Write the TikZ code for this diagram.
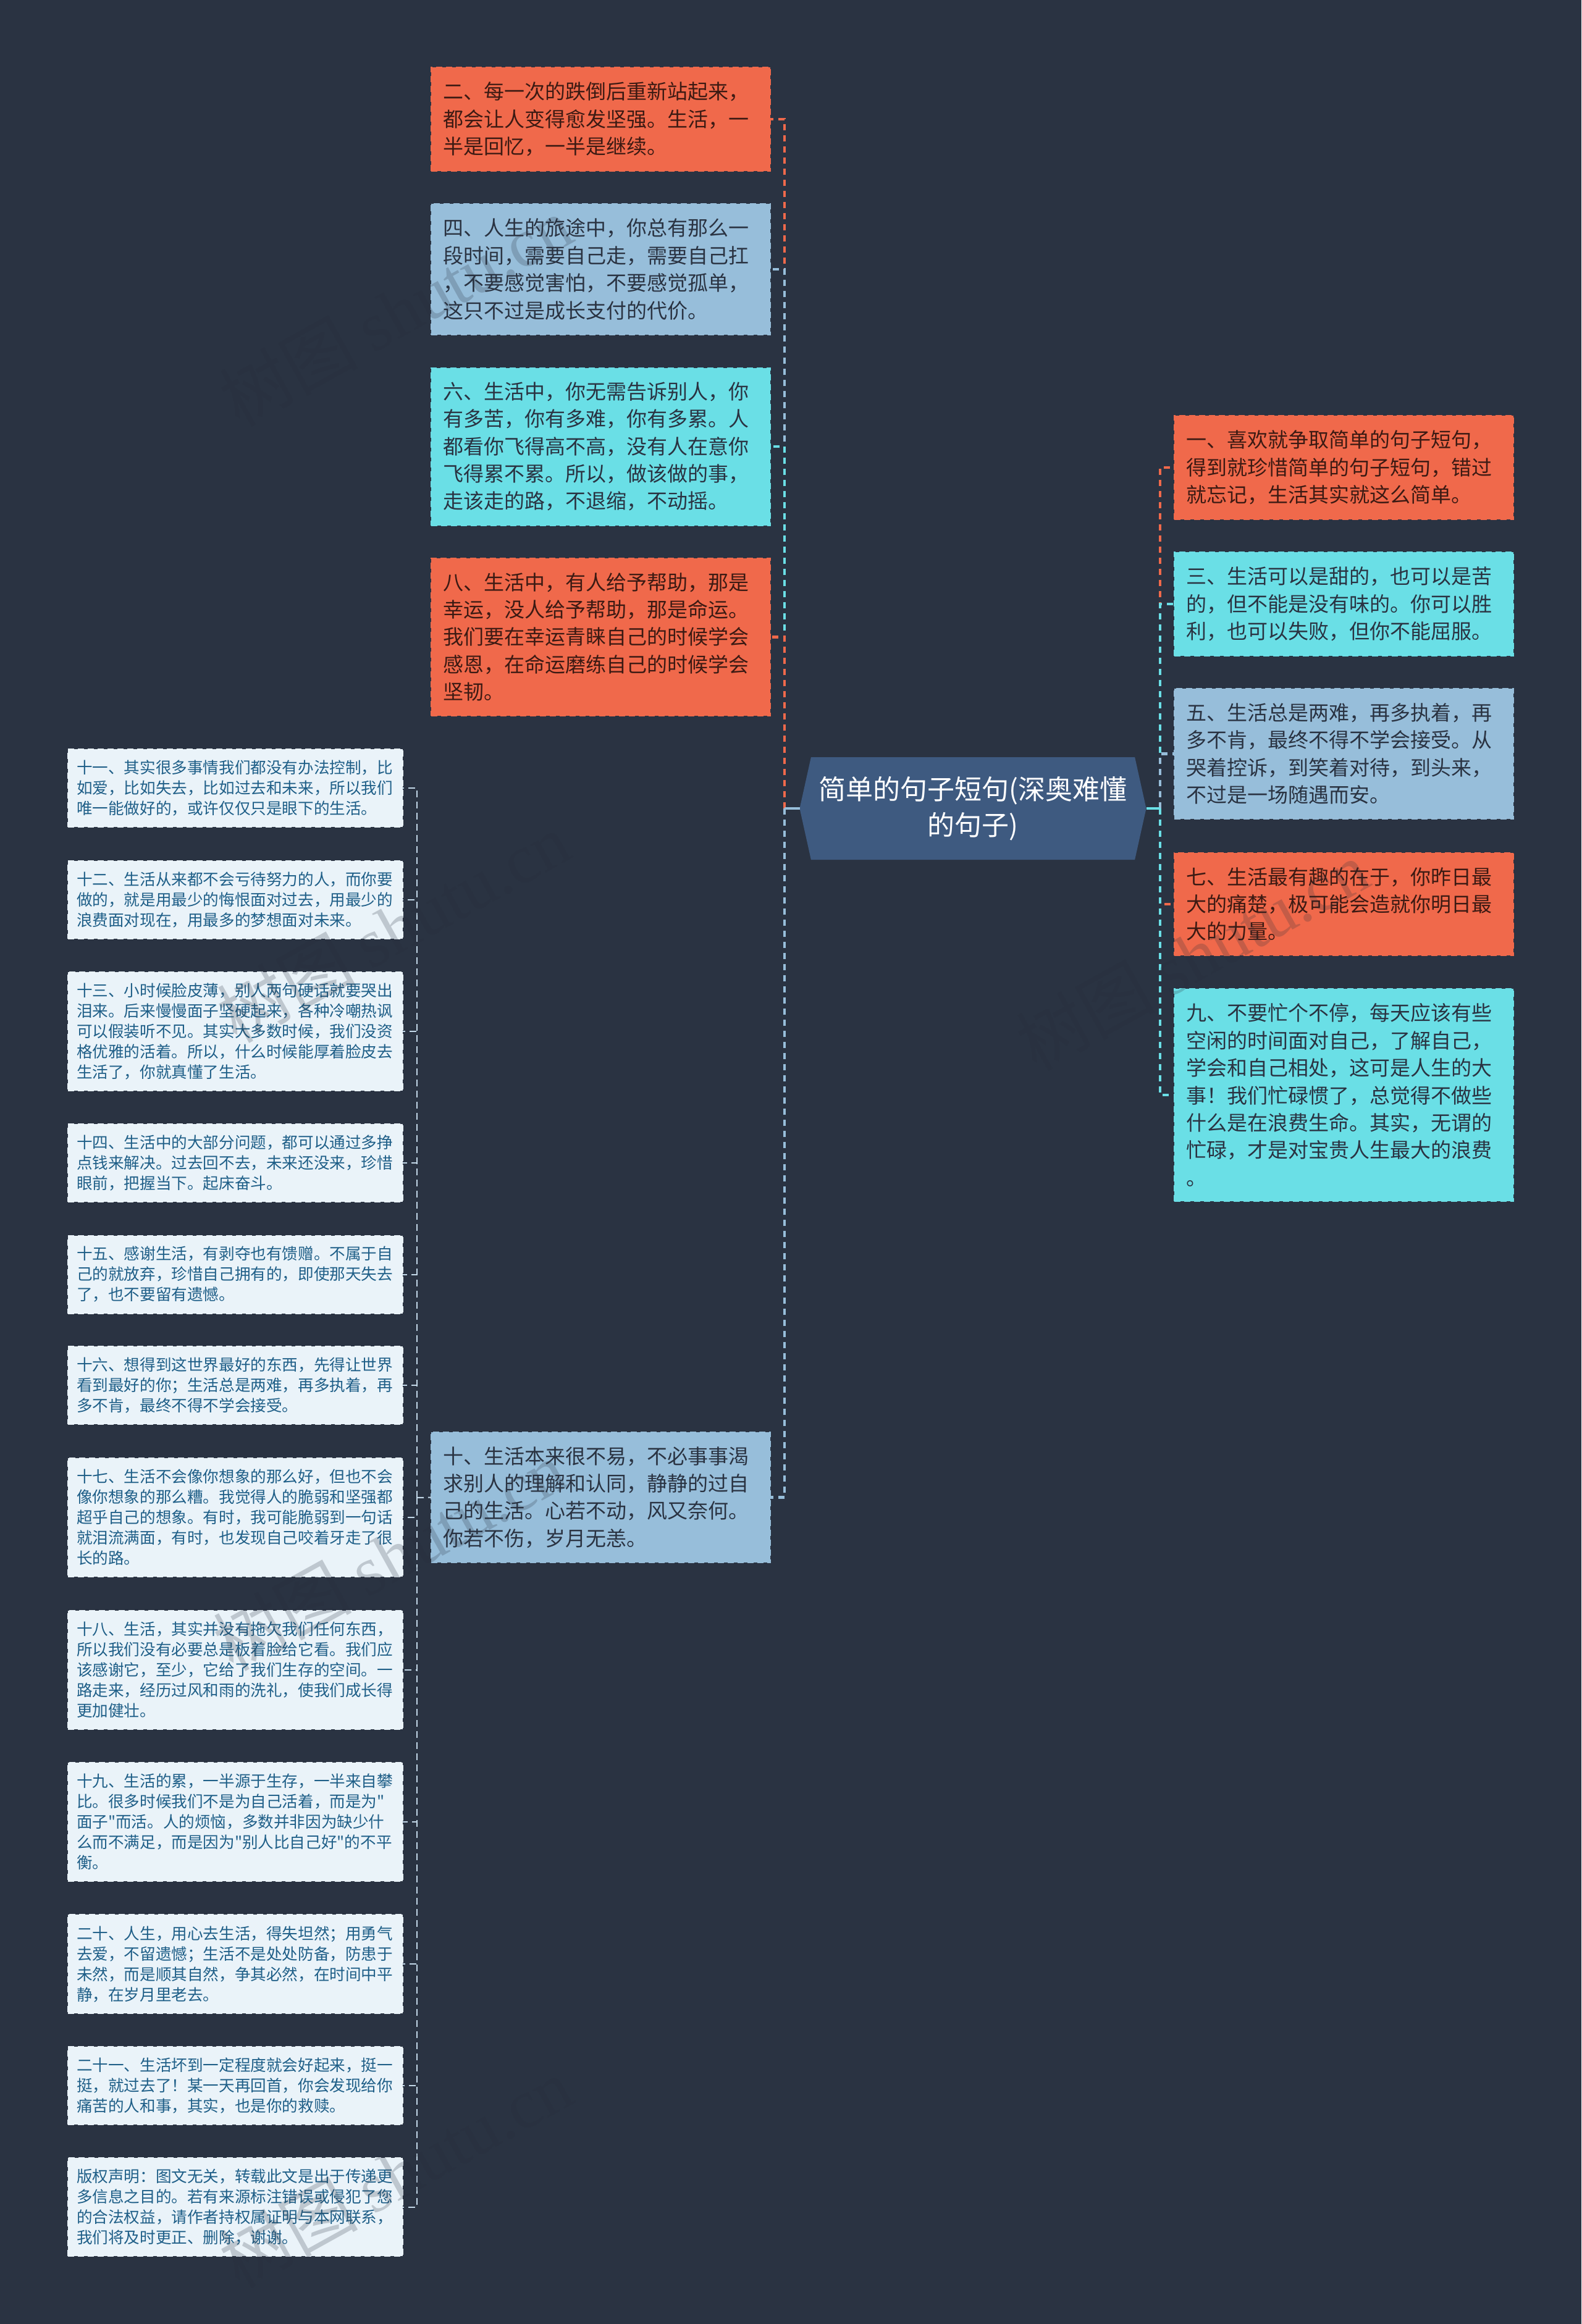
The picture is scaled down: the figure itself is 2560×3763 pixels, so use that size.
\documentclass[tikz,border=0pt]{standalone}
\usepackage{fontspec}
\usepackage{xcolor}
\setmainfont{Noto Sans CJK SC}[Ligatures=TeXOff]
\newfontfamily\wmlatin{Liberation Serif}
\usetikzlibrary{shapes.symbols}
\definecolor{pagebg}{HTML}{2A3342}
\definecolor{rootfill}{HTML}{3E5A80}
\definecolor{boxorange}{HTML}{F0694B}
\definecolor{boxblue}{HTML}{97BEDA}
\definecolor{boxcyan}{HTML}{6ADFE6}
\definecolor{boxlight}{HTML}{EAF3F9}
\definecolor{linklight}{HTML}{C3D8E8}
\definecolor{textlight}{HTML}{1F5F88}
\definecolor{stampgray}{HTML}{262E3B}
\tikzset{
	mapbox/.style={anchor=north west, align=left, inner ysep=0pt, outer sep=0pt, dash pattern=on 5pt off 3pt, line width=1pt},
	bigbox/.style={mapbox, text width=255.5pt, inner xsep=9.5pt, font=\fontsize{16.5}{22.2}\selectfont},
	smallbox/.style={mapbox, text width=257pt, inner xsep=7pt, fill=boxlight, draw=boxlight, text=textlight, font=\fontsize{12.8}{16.5}\selectfont},
	orangebox/.style={bigbox, fill=boxorange, draw=boxorange, text=black!75!boxorange},
	bluebox/.style={bigbox, fill=boxblue, draw=boxblue, text=pagebg},
	cyanbox/.style={bigbox, fill=boxcyan, draw=boxcyan, text=pagebg},
	rootbox/.style={shape=signal, signal from=nowhere, signal to=west and east, signal pointer angle=155, fill=rootfill, text=white, align=center, inner sep=0pt, outer sep=0pt, minimum width=280.5pt, minimum height=83pt, font=\fontsize{22}{29}\selectfont},
	biglink/.style={dash pattern=on 5pt off 4pt, line width=2.2pt},
	smalllink/.style={linklight, dash pattern=on 5.5pt off 3.5pt, line width=1pt},
	rootstub/.style={line width=2pt},
	stamp/.style={stampgray, opacity=0.22, rotate=29, font=\fontsize{56}{56}\selectfont}
}
\begin{document}
\begin{tikzpicture}[x=0.5pt, y=-0.5pt]
	\useasboundingbox (0, 0) rectangle (2560, 3763);
	\fill[pagebg] (0, 0) rectangle (2560, 3763);

	\node[rootbox] (root) at (1575, 1309) {简单的句子短句(深奥难懂\\的句子)};
	\coordinate (busleft) at (1270, 1309);
	\coordinate (busright) at (1878, 1309);
	\coordinate (bussmall) at (675, 2425);

	\node[orangebox, minimum height=84pt] (er) at (698, 109) {二、每一次的跌倒后重新站起来，\\都会让人变得愈发坚强。生活，一\\半是回忆，一半是继续。};
	\node[bluebox, minimum height=106pt] (si) at (698, 330) {四、人生的旅途中，你总有那么一\\段时间，需要自己走，需要自己扛\\，不要感觉害怕，不要感觉孤单，\\这只不过是成长支付的代价。};
	\node[cyanbox, minimum height=127.5pt] (liu) at (698, 595.5) {六、生活中，你无需告诉别人，你\\有多苦，你有多难，你有多累。人\\都看你飞得高不高，没有人在意你\\飞得累不累。所以，做该做的事，\\走该走的路，不退缩，不动摇。};
	\node[orangebox, minimum height=127.5pt] (ba) at (698, 904) {八、生活中，有人给予帮助，那是\\幸运，没人给予帮助，那是命运。\\我们要在幸运青睐自己的时候学会\\感恩，在命运磨练自己的时候学会\\坚韧。};
	\node[bluebox, minimum height=105.5pt] (shi) at (698, 2319) {十、生活本来很不易，不必事事渴\\求别人的理解和认同，静静的过自\\己的生活。心若不动，风又奈何。\\你若不伤，岁月无恙。};

	\node[orangebox, minimum height=84pt] (yi) at (1901, 673) {一、喜欢就争取简单的句子短句，\\得到就珍惜简单的句子短句，错过\\就忘记，生活其实就这么简单。};
	\node[cyanbox, minimum height=84pt] (san) at (1901, 894) {三、生活可以是甜的，也可以是苦\\的，但不能是没有味的。你可以胜\\利，也可以失败，但你不能屈服。};
	\node[bluebox, minimum height=105.5pt] (wu) at (1901, 1115) {五、生活总是两难，再多执着，再\\多不肯，最终不得不学会接受。从\\哭着控诉，到笑着对待，到头来，\\不过是一场随遇而安。};
	\node[orangebox, minimum height=83pt] (qi) at (1901, 1381) {七、生活最有趣的在于，你昨日最\\大的痛楚，极可能会造就你明日最\\大的力量。};
	\node[cyanbox, minimum height=172pt] (jiu) at (1901, 1601) {九、不要忙个不停，每天应该有些\\空闲的时间面对自己，了解自己，\\学会和自己相处，这可是人生的大\\事！我们忙碌惯了，总觉得不做些\\什么是在浪费生命。其实，无谓的\\忙碌，才是对宝贵人生最大的浪费\\。};

	\node[smallbox, minimum height=63pt] (shiyi) at (110, 1213) {十一、其实很多事情我们都没有办法控制，比\\如爱，比如失去，比如过去和未来，所以我们\\唯一能做好的，或许仅仅只是眼下的生活。};
	\node[smallbox, minimum height=63pt] (shier) at (110, 1394) {十二、生活从来都不会亏待努力的人，而你要\\做的，就是用最少的悔恨面对过去，用最少的\\浪费面对现在，用最多的梦想面对未来。};
	\node[smallbox, minimum height=96pt] (shisan) at (110, 1574) {十三、小时候脸皮薄，别人两句硬话就要哭出\\泪来。后来慢慢面子坚硬起来，各种冷嘲热讽\\可以假装听不见。其实大多数时候，我们没资\\格优雅的活着。所以，什么时候能厚着脸皮去\\生活了，你就真懂了生活。};
	\node[smallbox, minimum height=63pt] (shisi) at (110, 1820) {十四、生活中的大部分问题，都可以通过多挣\\点钱来解决。过去回不去，未来还没来，珍惜\\眼前，把握当下。起床奋斗。};
	\node[smallbox, minimum height=63pt] (shiwu) at (110, 2000.5) {十五、感谢生活，有剥夺也有馈赠。不属于自\\己的就放弃，珍惜自己拥有的，即使那天失去\\了，也不要留有遗憾。};
	\node[smallbox, minimum height=63pt] (shiliu) at (110, 2180) {十六、想得到这世界最好的东西，先得让世界\\看到最好的你；生活总是两难，再多执着，再\\多不肯，最终不得不学会接受。};
	\node[smallbox, minimum height=96pt] (shiqi) at (110, 2361) {十七、生活不会像你想象的那么好，但也不会\\像你想象的那么糟。我觉得人的脆弱和坚强都\\超乎自己的想象。有时，我可能脆弱到一句话\\就泪流满面，有时，也发现自己咬着牙走了很\\长的路。};
	\node[smallbox, minimum height=96pt] (shiba) at (110, 2607.5) {十八、生活，其实并没有拖欠我们任何东西，\\所以我们没有必要总是板着脸给它看。我们应\\该感谢它，至少，它给了我们生存的空间。一\\路走来，经历过风和雨的洗礼，使我们成长得\\更加健壮。};
	\node[smallbox, minimum height=96pt] (shijiu) at (110, 2854) {十九、生活的累，一半源于生存，一半来自攀\\比。很多时候我们不是为自己活着，而是为"\\面子"而活。人的烦恼，多数并非因为缺少什\\么而不满足，而是因为"别人比自己好"的不平\\衡。};
	\node[smallbox, minimum height=80pt] (ershi) at (110, 3100) {二十、人生，用心去生活，得失坦然；用勇气\\去爱，不留遗憾；生活不是处处防备，防患于\\未然，而是顺其自然，争其必然，在时间中平\\静，在岁月里老去。};
	\node[smallbox, minimum height=63pt] (eryi) at (110, 3314) {二十一、生活坏到一定程度就会好起来，挺一\\挺，就过去了！某一天再回首，你会发现给你\\痛苦的人和事，其实，也是你的救赎。};
	\node[smallbox, minimum height=79.5pt] (banquan) at (110, 3494) {版权声明：图文无关，转载此文是出于传递更\\多信息之目的。若有来源标注错误或侵犯了您\\的合法权益，请作者持权属证明与本网联系，\\我们将及时更正、删除，谢谢。};

	\draw[biglink, boxorange] (busleft) |- (er);
	\draw[biglink, boxblue] (busleft) |- (si);
	\draw[biglink, boxcyan] (busleft) |- (liu);
	\draw[biglink, boxorange] (busleft) |- (ba);
	\draw[biglink, boxblue] (busleft) |- (shi);
	\draw[rootstub, boxblue] (root.west) -- (busleft);

	\draw[biglink, boxorange] (busright) |- (yi);
	\draw[biglink, boxcyan] (busright) |- (san);
	\draw[biglink, boxblue] (busright) |- (wu);
	\draw[biglink, boxorange] (busright) |- (qi);
	\draw[biglink, boxcyan] (busright) |- (jiu);
	\draw[rootstub, boxcyan] (root.east) -- (busright);

	\draw[smalllink] (bussmall) -- (shi.west);
	\draw[smalllink] (bussmall) |- (shiyi);
	\draw[smalllink] (bussmall) |- (shier);
	\draw[smalllink] (bussmall) |- (shisan);
	\draw[smalllink] (bussmall) |- (shisi);
	\draw[smalllink] (bussmall) |- (shiwu);
	\draw[smalllink] (bussmall) |- (shiliu);
	\draw[smalllink] (bussmall) |- (shiqi);
	\draw[smalllink] (bussmall) |- (shiba);
	\draw[smalllink] (bussmall) |- (shijiu);
	\draw[smalllink] (bussmall) |- (ershi);
	\draw[smalllink] (bussmall) |- (eryi);
	\draw[smalllink] (bussmall) |- (banquan);

	\node[stamp] (stampa) at (640, 504) {树图 {\wmlatin shutu.cn}};
	\node[stamp] (stampb) at (636, 1502) {树图 {\wmlatin shutu.cn}};
	\node[stamp] (stampc) at (630, 2519) {树图 {\wmlatin shutu.cn}};
	\node[stamp] (stampd) at (640, 3518) {树图 {\wmlatin shutu.cn}};
	\node[stamp] (stampf) at (1930, 1547) {树图 {\wmlatin shutu.cn}};
\end{tikzpicture}
\end{document}
